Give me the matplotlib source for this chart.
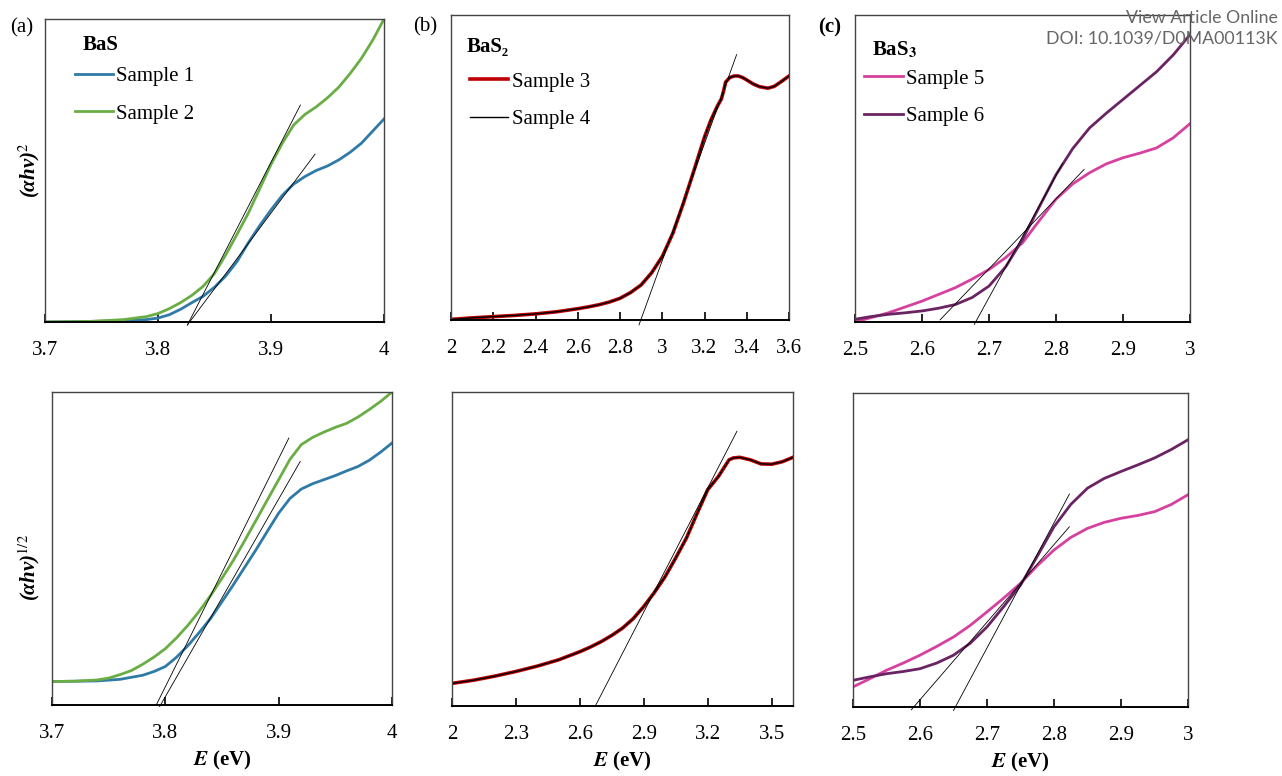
import matplotlib
matplotlib.use("Agg")
import matplotlib.pyplot as plt

plt.rcParams["font.family"] = ["Liberation Serif", "DejaVu Serif"]
plt.rcParams["mathtext.fontset"] = "stix"

# ---- data (y in arbitrary normalised units) ----
# BaS, (ahv)^2
e_s2_top = [3.70, 3.74, 3.77, 3.79, 3.80, 3.81, 3.82, 3.83, 3.84, 3.85, 3.86, 3.87, 3.88, 3.89,
            3.90, 3.91, 3.92, 3.93, 3.94, 3.95, 3.96, 3.97, 3.98, 3.99, 4.00]
s2_top = [0.0, 0.002, 0.008, 0.018, 0.028, 0.044, 0.064, 0.088, 0.118, 0.16, 0.222, 0.29, 0.36, 0.44,
          0.52, 0.59, 0.65, 0.685, 0.71, 0.74, 0.775, 0.82, 0.87, 0.93, 1.0]
e_s1_top = [3.70, 3.76, 3.79, 3.80, 3.81, 3.82, 3.83, 3.84, 3.85, 3.86, 3.87, 3.88, 3.89, 3.90,
            3.91, 3.92, 3.93, 3.94, 3.95, 3.96, 3.97, 3.98, 3.99, 4.00]
s1_top = [0.0, 0.003, 0.008, 0.013, 0.024, 0.042, 0.064, 0.085, 0.115, 0.152, 0.20, 0.262, 0.318, 0.37,
          0.418, 0.455, 0.48, 0.50, 0.515, 0.535, 0.56, 0.59, 0.63, 0.67]
tan_s2_top = ([3.826, 3.926], [-0.01, 0.716])
tan_s1_top = ([3.826, 3.939], [-0.01, 0.554])

# BaS, (ahv)^1/2
e_s2_bot = [3.70, 3.72, 3.74, 3.75, 3.76, 3.77, 3.78, 3.79, 3.80, 3.81, 3.82, 3.83, 3.84, 3.85, 3.86,
            3.87, 3.88, 3.89, 3.90, 3.91, 3.92, 3.93, 3.94, 3.95, 3.96, 3.97, 3.98, 3.99, 4.00]
s2_bot = [0.075, 0.076, 0.08, 0.086, 0.097, 0.11, 0.13, 0.153, 0.18, 0.215, 0.255, 0.30, 0.35, 0.405, 0.462,
          0.525, 0.59, 0.655, 0.72, 0.785, 0.832, 0.855, 0.872, 0.887, 0.90, 0.92, 0.944, 0.97, 1.0]
e_s1_bot = [3.70, 3.74, 3.76, 3.78, 3.79, 3.80, 3.81, 3.82, 3.83, 3.84, 3.85, 3.86, 3.87, 3.88, 3.89,
            3.90, 3.91, 3.92, 3.93, 3.94, 3.95, 3.96, 3.97, 3.98, 3.99, 4.00]
s1_bot = [0.075, 0.077, 0.082, 0.095, 0.107, 0.123, 0.153, 0.19, 0.232, 0.277, 0.33, 0.384, 0.44, 0.496, 0.555,
          0.613, 0.66, 0.69, 0.707, 0.72, 0.733, 0.748, 0.762, 0.782, 0.808, 0.837]
tan_s2_bot = ([3.792, 3.909], [0.0, 0.853])
tan_s1_bot = ([3.795, 3.919], [-0.005, 0.778])

# BaS2 (samples 3 and 4 coincide)
e_bas2_top = [2.0, 2.1, 2.2, 2.3, 2.4, 2.5, 2.6, 2.65, 2.7, 2.75, 2.8, 2.85, 2.9, 2.95, 3.0, 3.05, 3.1,
              3.15, 3.2, 3.23, 3.26, 3.28, 3.29, 3.30, 3.32, 3.34, 3.36, 3.38, 3.40, 3.43, 3.46, 3.50,
              3.53, 3.56, 3.60]
s3_top = [0.002, 0.007, 0.011, 0.015, 0.02, 0.027, 0.037, 0.043, 0.05, 0.059, 0.071, 0.09, 0.115, 0.155,
          0.208, 0.284, 0.383, 0.49, 0.60, 0.655, 0.70, 0.725, 0.75, 0.78, 0.795, 0.80, 0.80, 0.795,
          0.787, 0.774, 0.765, 0.76, 0.766, 0.78, 0.80]
tan_bas2_top = ([2.89, 3.352], [-0.016, 0.87])

e_bas2_bot = [2.0, 2.1, 2.2, 2.3, 2.4, 2.5, 2.6, 2.65, 2.7, 2.75, 2.8, 2.85, 2.9, 2.95, 3.0, 3.05, 3.1,
              3.15, 3.2, 3.25, 3.28, 3.30, 3.32, 3.35, 3.4, 3.45, 3.5, 3.55, 3.6]
s3_bot = [0.072, 0.082, 0.095, 0.11, 0.127, 0.147, 0.173, 0.188, 0.205, 0.225, 0.248, 0.278, 0.317, 0.362,
          0.412, 0.472, 0.535, 0.613, 0.689, 0.731, 0.763, 0.784, 0.79, 0.792, 0.784, 0.771, 0.77, 0.778, 0.792]
tan_bas2_bot = ([2.671, 3.337], [-0.002, 0.875])

# BaS3
e_bas3 = [2.50, 2.525, 2.55, 2.575, 2.60, 2.625, 2.65, 2.675, 2.70, 2.725, 2.75, 2.775, 2.80,
          2.825, 2.85, 2.875, 2.90, 2.925, 2.95, 2.975, 3.00]
s5_top = [0.0, 0.015, 0.03, 0.049, 0.068, 0.09, 0.112, 0.14, 0.171, 0.21, 0.258, 0.33, 0.40,
          0.45, 0.486, 0.515, 0.535, 0.55, 0.567, 0.60, 0.646]
s6_top = [0.009, 0.018, 0.025, 0.03, 0.036, 0.045, 0.057, 0.08, 0.117, 0.18, 0.269, 0.375, 0.48,
          0.565, 0.632, 0.68, 0.725, 0.77, 0.815, 0.87, 0.936]
tan_s5_top = ([2.627, 2.842], [0.007, 0.497])
tan_s6_top = ([2.678, 2.81], [-0.008, 0.517])

s5_bot = [0.064, 0.09, 0.117, 0.14, 0.165, 0.193, 0.223, 0.26, 0.303, 0.347, 0.394, 0.45, 0.50,
          0.54, 0.569, 0.588, 0.601, 0.61, 0.622, 0.645, 0.676]
s6_bot = [0.085, 0.096, 0.106, 0.113, 0.122, 0.14, 0.165, 0.203, 0.255, 0.32, 0.388, 0.48, 0.574,
          0.645, 0.697, 0.728, 0.75, 0.771, 0.793, 0.82, 0.851]
tan_s5_bot = ([2.587, 2.823], [-0.009, 0.574])
tan_s6_bot = ([2.650, 2.823], [-0.011, 0.678])

ticks_bas = [3.7, 3.8, 3.9, 4.0]
ticklabels_bas = ["3.7", "3.8", "3.9", "4"]
ticks_bas2_top = [2.0, 2.2, 2.4, 2.6, 2.8, 3.0, 3.2, 3.4, 3.6]
ticklabels_bas2_top = ["2", "2.2", "2.4", "2.6", "2.8", "3", "3.2", "3.4", "3.6"]
ticks_bas2_bot = [2.0, 2.3, 2.6, 2.9, 3.2, 3.5]
ticklabels_bas2_bot = ["2", "2.3", "2.6", "2.9", "3.2", "3.5"]
ticks_bas3 = [2.5, 2.6, 2.7, 2.8, 2.9, 3.0]
ticklabels_bas3 = ["2.5", "2.6", "2.7", "2.8", "2.9", "3"]

BLUE = "#2f7aa6"
GREEN = "#6aad45"
RED = "#c00000"
PINK = "#d6409f"
PURPLE = "#6b2463"

W, H = 1282, 776
fig = plt.figure(figsize=(W / 100, H / 100), dpi=100)


def make_ax(l, r, t, b):
    return fig.add_axes([l / W, 1 - b / H, (r - l) / W, (b - t) / H])


def style(ax, xlim, ticks, labels):
    ax.set_xlim(*xlim)
    ax.set_ylim(0, 1)
    ax.set_xticks(ticks)
    ax.set_xticklabels(labels)
    ax.set_yticks([])
    ax.tick_params(axis="x", direction="in", length=6, width=1.2, labelsize=15, pad=14)
    for s in ["top", "left", "right"]:
        ax.spines[s].set_color("#444444")
        ax.spines[s].set_linewidth(1.0)
    ax.spines["bottom"].set_linewidth(1.4)


def tangent(ax, t):
    ax.plot(t[0], t[1], color="black", lw=0.6, clip_on=False, zorder=5)


def add_legend(ax, x, y):
    ax.legend(loc="upper left", bbox_to_anchor=(x, y), frameon=False, fontsize=15,
              handlelength=1.85, handletextpad=0.15, labelspacing=0.85, borderpad=0, borderaxespad=0)


LW = 2.0

# ---- top row ----
ax = make_ax(45, 384, 19, 322)
ax.plot(e_s1_top, s1_top, color=BLUE, lw=LW, label="Sample 1")
ax.plot(e_s2_top, s2_top, color=GREEN, lw=LW, label="Sample 2")
tangent(ax, tan_s2_top)
tangent(ax, tan_s1_top)
style(ax, (3.7, 4.0), ticks_bas, ticklabels_bas)
ax.set_ylabel(r"(αhν)$^{2}$", fontsize=15, fontweight="bold", style="italic")
ax.yaxis.set_label_coords(-0.01, 0.5)
ax.text(0.112, 0.915, "BaS", transform=ax.transAxes, fontsize=15, fontweight="bold", va="center")
add_legend(ax, 0.088, 0.842)

ax = make_ax(451, 789, 15, 320)
ax.plot(e_bas2_top, s3_top, color=RED, lw=2.6, label="Sample 3")
ax.plot(e_bas2_top, s3_top, color="black", lw=1.0, label="Sample 4")
tangent(ax, tan_bas2_top)
style(ax, (2.0, 3.6), ticks_bas2_top, ticklabels_bas2_top)
ax.text(0.047, 0.895, "BaS₂", transform=ax.transAxes, fontsize=15, fontweight="bold", va="center")
add_legend(ax, 0.056, 0.813)

ax = make_ax(855, 1190, 15, 322)
ax.plot(e_bas3, s5_top, color=PINK, lw=LW, label="Sample 5")
ax.plot(e_bas3, s6_top, color=PURPLE, lw=LW, label="Sample 6")
tangent(ax, tan_s5_top)
tangent(ax, tan_s6_top)
style(ax, (2.5, 3.0), ticks_bas3, ticklabels_bas3)
ax.text(0.05, 0.885, r"BaS$_\mathbf{3}$", transform=ax.transAxes, fontsize=15, fontweight="bold", va="center")
add_legend(ax, 0.027, 0.824)

# ---- bottom row ----
ax = make_ax(52, 392, 392, 705)
ax.plot(e_s1_bot, s1_bot, color=BLUE, lw=LW)
ax.plot(e_s2_bot, s2_bot, color=GREEN, lw=LW)
tangent(ax, tan_s2_bot)
tangent(ax, tan_s1_bot)
style(ax, (3.7, 4.0), ticks_bas, ticklabels_bas)
ax.set_ylabel(r"(αhν)$^{1/2}$", fontsize=15, fontweight="bold", style="italic")
ax.yaxis.set_label_coords(-0.03, 0.44)
ax.set_xlabel(r"$\mathbfit{E}$ (eV)", fontsize=15, fontweight="bold", labelpad=4)

ax = make_ax(452, 793, 392, 706)
ax.plot(e_bas2_bot, s3_bot, color=RED, lw=2.6)
ax.plot(e_bas2_bot, s3_bot, color="black", lw=1.0)
tangent(ax, tan_bas2_bot)
style(ax, (2.0, 3.6), ticks_bas2_bot, ticklabels_bas2_bot)
ax.set_xlabel(r"$\mathbfit{E}$ (eV)", fontsize=15, fontweight="bold", labelpad=4)

ax = make_ax(853, 1188, 393, 707)
ax.plot(e_bas3, s5_bot, color=PINK, lw=LW)
ax.plot(e_bas3, s6_bot, color=PURPLE, lw=LW)
tangent(ax, tan_s5_bot)
tangent(ax, tan_s6_bot)
style(ax, (2.5, 3.0), ticks_bas3, ticklabels_bas3)
ax.set_xlabel(r"$\mathbfit{E}$ (eV)", fontsize=15, fontweight="bold", labelpad=4)

# panel letters
fig.text(10 / W, 1 - 28 / H, "(a)", fontsize=15, va="center")
fig.text(413 / W, 1 - 27 / H, "(b)", fontsize=15, va="center")
fig.text(818 / W, 1 - 27 / H, "(c)", fontsize=15, fontweight="bold", va="center")

# watermark
fig.text(1278 / W, 1 - 18 / H, "View Article Online", fontsize=12.8, color="#666666",
         ha="right", va="center", family="Lato")
fig.text(1278 / W, 1 - 39 / H, "DOI: 10.1039/D0MA00113K", fontsize=12.8, color="#666666",
         ha="right", va="center", family="Lato")

fig.savefig("out.png", dpi=100)
